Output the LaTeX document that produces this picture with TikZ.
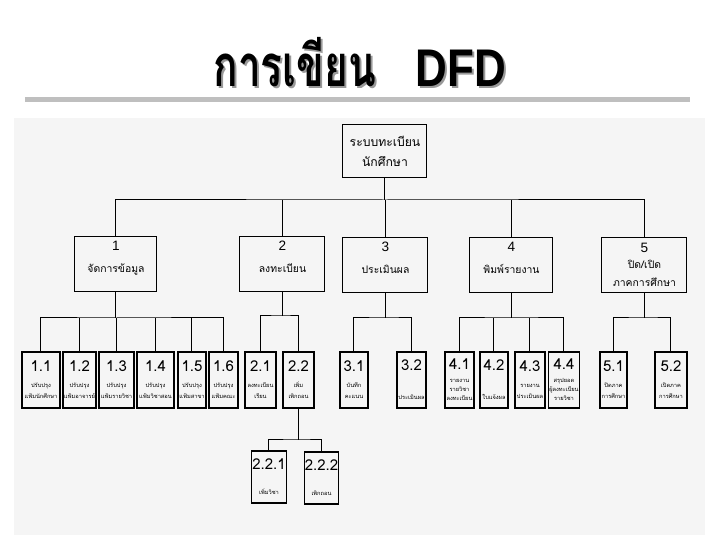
\documentclass[tikz,border=0pt]{standalone}
\usepackage{fontspec}
\usepackage{graphicx}
\setmainfont{Liberation Sans}
\newfontfamily\thaifont[Script=Thai]{Loma}

\newcommand{\ttl}[1]{\scalebox{0.7}[1]{\thaifont\bfseries\fontsize{29}{30}\selectfont #1}}
\newcommand{\ttlb}[1]{\scalebox{0.83}[1]{\bfseries\fontsize{26.5}{30}\selectfont #1}}
\newcommand{\sn}[1]{{\fontsize{7.5}{8}\selectfont #1}}
\newcommand{\pn}[1]{{\rmfamily\fontsize{6.8}{8}\selectfont #1}}

\begin{document}
\begin{tikzpicture}[x=0.5pt,y=-0.5pt,
  topbox/.style={draw, line width=0.5pt, align=center, inner sep=1pt,
    minimum width=42pt, minimum height=26.5pt,
    font=\thaifont\fontsize{6.1}{10}\selectfont},
  mainbox/.style={draw, line width=0.5pt, align=center, inner sep=1pt,
    minimum height=27.5pt, font=\thaifont\fontsize{5.2}{8}\selectfont},
  subbox/.style={draw, line width=0.6pt, align=center, inner sep=0.3pt,
    minimum height=28pt, font=\thaifont\fontsize{2.85}{5.5}\selectfont},
  link/.style={line width=0.5pt}]
\useasboundingbox (0,0) rectangle (720,540);
\fill[black!4] (14,118) rectangle (705,535);

% heading
\node[text=black!40] (shadow) at (362,64) {\ttl{การเขียน}\hspace{20pt}\ttlb{DFD}};
\node (title) at (360,62) {\ttl{การเขียน}\hspace{20pt}\ttlb{DFD}};
\draw[black!25, line width=2.5pt] (25,100) -- (690,100);

\node[topbox] (root) at (385,151) {ระบบทะเบียน\\นักศึกษา};

\node[mainbox, minimum width=41pt] (p1) at (116,264.5)
  {\pn{1}\\[3pt]จัดการข้อมูล\\\mbox{}};
\node[mainbox, minimum width=42.5pt] (p2) at (282.5,264.5)
  {\pn{2}\\[3pt]ลงทะเบียน\\\mbox{}};
\node[mainbox, minimum width=42.5pt] (p3) at (385.5,265.5)
  {\pn{3}\\[3pt]ประเมินผล\\\mbox{}};
\node[mainbox, minimum width=41.5pt] (p4) at (511.5,265.5)
  {\pn{4}\\[3pt]พิมพ์รายงาน\\\mbox{}};
\node[mainbox, minimum width=42.5pt] (p5) at (644.5,265)
  {\pn{5}\\ปิด/เปิด\\[1pt]ภาคการศึกษา};

\node[subbox, minimum width=19pt] (s11) at (41,380) {\sn{1.1}\\[2.5pt]ปรับปรุง\\แฟ้มนักศึกษา};
\node[subbox, minimum width=16.5pt] (s12) at (79.5,380) {\sn{1.2}\\[2.5pt]ปรับปรุง\\แฟ้มอาจารย์};
\node[subbox, minimum width=17.5pt] (s13) at (116.5,380) {\sn{1.3}\\[2.5pt]ปรับปรุง\\แฟ้มรายวิชา};
\node[subbox, minimum width=18.5pt] (s14) at (155.5,380) {\sn{1.4}\\[2.5pt]ปรับปรุง\\แฟ้มวิชาสอน};
\node[subbox, minimum width=14pt] (s15) at (192,380) {\sn{1.5}\\[2.5pt]ปรับปรุง\\แฟ้มสาขา};
\node[subbox, minimum width=14.5pt] (s16) at (223.5,380) {\sn{1.6}\\[2.5pt]ปรับปรุง\\แฟ้มคณะ};

\node[subbox, minimum width=15.5pt] (s21) at (260.5,380) {\sn{2.1}\\[2.5pt]ลงทะเบียน\\เรียน};
\node[subbox, minimum width=15.5pt] (s22) at (298.5,380) {\sn{2.2}\\[2.5pt]เพิ่ม\\เพิกถอน};

\node[subbox, minimum width=14pt] (s31) at (354,380) {\sn{3.1}\\[2.5pt]บันทึก\\คะแนน};
\node[subbox, minimum width=14.5pt] (s32) at (411.5,380) {\sn{3.2}\\[9pt]ประเมินผล};

\node[subbox, minimum width=14.5pt] (s41) at (459.5,380) {\sn{4.1}\\[1pt]รายงาน\\[-1pt]รายวิชา\\[-1pt]ลงทะเบียน};
\node[subbox, minimum width=14pt] (s42) at (494,380) {\sn{4.2}\\[9pt]ใบแจ้งผล};
\node[subbox, minimum width=15pt] (s43) at (530,380) {\sn{4.3}\\[2.5pt]รายงาน\\ประเมินผล};
\node[subbox, minimum width=14pt] (s44) at (564,380) {\sn{4.4}\\[1pt]สรุปยอด\\[-1pt]ผู้ลงทะเบียน\\[-1pt]รายวิชา};

\node[subbox, minimum width=13.5pt] (s51) at (613.5,380) {\sn{5.1}\\[2.5pt]ปิดภาค\\การศึกษา};
\node[subbox, minimum width=16pt] (s52) at (671,380) {\sn{5.2}\\[2.5pt]เปิดภาค\\การศึกษา};

\node[subbox, minimum width=16pt, minimum height=26pt] (t1) at (269,477) {\sn{2.2.1}\\[7pt]เพิ่มวิชา};
\node[subbox, minimum width=16.5pt, minimum height=26pt] (t2) at (321.5,478) {\sn{2.2.2}\\[7pt]เพิกถอน};

% tree lines
\coordinate (r0) at (385,200);
\draw[link] (root) -- (r0);
\draw[link] (p1.north) |- (r0) -| (p5.north);
\foreach \n in {p2,p3,p4} \draw[link] (\n.north) -- (\n.north |- r0);

\coordinate (b1) at (p1.south |- 0,318);
\draw[link] (p1.south) -- (b1);
\draw[link] (s11.north) |- (b1) -| (s16.north);
\foreach \n in {s12,s13,s14,s15} \draw[link] (\n.north) -- (\n.north |- b1);

\coordinate (b2) at (p2.south |- 0,316);
\draw[link] (p2.south) -- (b2);
\draw[link] (s21.north) |- (b2) -| (s22.north);

\coordinate (b3) at (p3.south |- 0,318);
\draw[link] (p3.south) -- (b3);
\draw[link] (s31.north) |- (b3) -| (s32.north);

\coordinate (b4) at (p4.south |- 0,318);
\draw[link] (p4.south) -- (b4);
\draw[link] (s41.north) |- (b4) -| (s44.north);
\foreach \n in {s42,s43} \draw[link] (\n.north) -- (\n.north |- b4);

\coordinate (b5) at (p5.south |- 0,318);
\draw[link] (p5.south) -- (b5);
\draw[link] (s51.north) |- (b5) -| (s52.north);

\coordinate (b22) at (s22.south |- 0,440);
\draw[link] (s22.south) -- (b22);
\draw[link] (t1.north) |- (b22) -| (t2.north);
\end{tikzpicture}
\end{document}
